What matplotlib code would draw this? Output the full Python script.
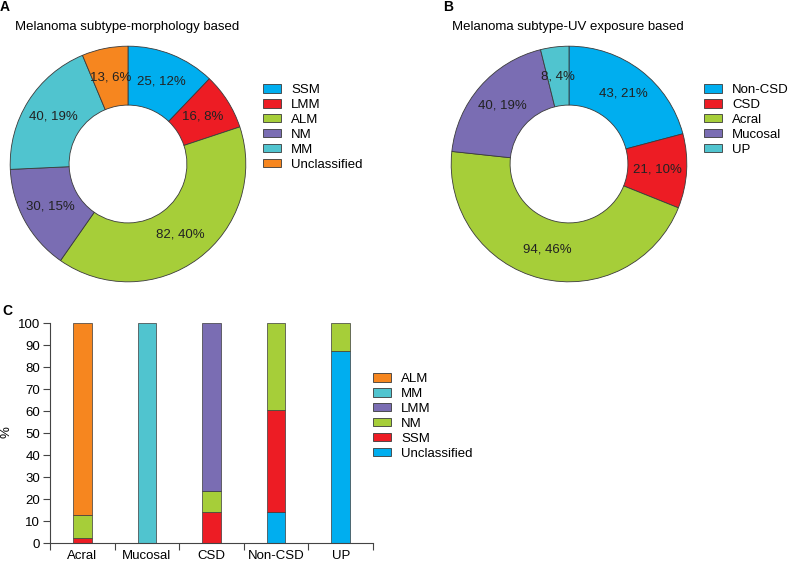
import numpy as np
import matplotlib
matplotlib.use("Agg")
import matplotlib.pyplot as plt
from matplotlib.patches import Patch

plt.rcParams['font.family'] = ['Liberation Sans', 'DejaVu Sans']
plt.rcParams['font.size'] = 9.5

# colours
BLUE = '#00aeef'
RED = '#ed1c24'
GREEN = '#a6ce39'
PURPLE = '#7a6db3'
TEAL = '#50c4cf'
ORANGE = '#f6861f'
EDGE = '#3a3a3a'

# panel A data
morph_labels = ['SSM', 'LMM', 'ALM', 'NM', 'MM', 'Unclassified']
morph_counts = [25, 16, 82, 30, 40, 13]
morph_colors = [BLUE, RED, GREEN, PURPLE, TEAL, ORANGE]

# panel B data
uv_labels = ['Non-CSD', 'CSD', 'Acral', 'Mucosal', 'UP']
uv_counts = [43, 21, 94, 40, 8]
uv_colors = [BLUE, RED, GREEN, PURPLE, TEAL]

# panel C data (percent of each UV group), stacked bottom -> top
groups = ['Acral', 'Mucosal', 'CSD', 'Non-CSD', 'UP']
pct_unclassified = [0, 0, 0, 14.0, 87.5]
pct_ssm = [2.1, 0, 14.3, 46.5, 0]
pct_nm = [10.6, 0, 9.5, 39.5, 12.5]
pct_lmm = [0, 0, 76.2, 0, 0]
pct_mm = [0, 100, 0, 0, 0]
pct_alm = [87.2, 0, 0, 0, 0]

W, H = 788, 562
fig = plt.figure(figsize=(W / 100, H / 100), dpi=100)


def px_axes(left, top, width, height):
    return fig.add_axes([left / W, (H - top - height) / H, width / W, height / H])


def donut(ax, counts, colors):
    total = sum(counts)

    def fmt(p):
        n = int(round(p * total / 100.0))
        return f"{n}, {p:.0f}%"

    ax.pie(counts, colors=colors, startangle=90, counterclock=False,
           radius=1.0, autopct=fmt, pctdistance=0.75,
           wedgeprops=dict(width=0.5, edgecolor=EDGE, linewidth=0.6),
           textprops=dict(color='#222222', fontsize=9.5))
    ax.set_xlim(-1.01, 1.01)
    ax.set_ylim(-1.01, 1.01)
    ax.set_aspect('equal')
    ax.axis('off')


def small_legend(ax, labels, colors, x, y):
    handles = [Patch(facecolor=c, edgecolor=EDGE, linewidth=0.6) for c in colors]
    ax.legend(handles, labels, loc='upper left',
              bbox_to_anchor=(x / W, 1 - y / H), bbox_transform=fig.transFigure,
              frameon=False, borderpad=0, borderaxespad=0,
              handlelength=1.4, handleheight=0.62, handletextpad=0.75,
              labelspacing=0.22, fontsize=9.5)


# A
axA = px_axes(9, 45, 238, 238)
donut(axA, morph_counts, morph_colors)
small_legend(axA, morph_labels, morph_colors, 263, 84)
fig.text(0 / W, 1 - 7 / H, 'A', fontweight='bold', fontsize=10, va='center', ha='left')
fig.text(15 / W, 1 - 27 / H, 'Melanoma subtype-morphology based', va='center', ha='left')

# B
axB = px_axes(450, 45, 238, 238)
donut(axB, uv_counts, uv_colors)
small_legend(axB, uv_labels, uv_colors, 704, 84)
fig.text(443 / W, 1 - 7 / H, 'B', fontweight='bold', fontsize=10, va='center', ha='left')
fig.text(452 / W, 1 - 27 / H, 'Melanoma subtype-UV exposure based', va='center', ha='left')

# C
axC = px_axes(50, 323, 323, 220)
x = np.arange(len(groups))
stack = [('Unclassified', pct_unclassified, BLUE),
         ('SSM', pct_ssm, RED),
         ('NM', pct_nm, GREEN),
         ('LMM', pct_lmm, PURPLE),
         ('MM', pct_mm, TEAL),
         ('ALM', pct_alm, ORANGE)]
bottom = np.zeros(len(groups))
for name, vals, col in stack:
    vals = np.array(vals, dtype=float)
    m = vals > 0
    axC.bar(x[m], vals[m], bottom=bottom[m], width=0.29, color=col,
            edgecolor=EDGE, linewidth=0.5)
    bottom += vals

axC.set_xlim(-0.5, len(groups) - 0.5)
axC.set_ylim(0, 100)
axC.set_yticks(np.arange(0, 101, 10))
axC.set_xticks(x)
axC.set_xticklabels(groups)
axC.set_xticks(np.arange(-0.5, len(groups)), minor=True)
axC.tick_params(axis='x', which='major', length=0, pad=5)
axC.tick_params(axis='x', which='minor', length=5, width=0.8, color='#444444')
axC.tick_params(axis='y', length=5, width=0.8, color='#444444', pad=2)
for s in ['top', 'right']:
    axC.spines[s].set_visible(False)
for s in ['left', 'bottom']:
    axC.spines[s].set_color('#444444')
    axC.spines[s].set_linewidth(0.8)
fig.text(6 / W, 1 - 432 / H, '%', rotation=90, va='center', ha='center')

legC_names = [s[0] for s in stack][::-1]
legC_cols = [s[2] for s in stack][::-1]
small_legend(axC, legC_names, legC_cols, 373, 373)
fig.text(2 / W, 1 - 311 / H, 'C', fontweight='bold', fontsize=10, va='center', ha='left')

fig.savefig('out.png', dpi=100)
